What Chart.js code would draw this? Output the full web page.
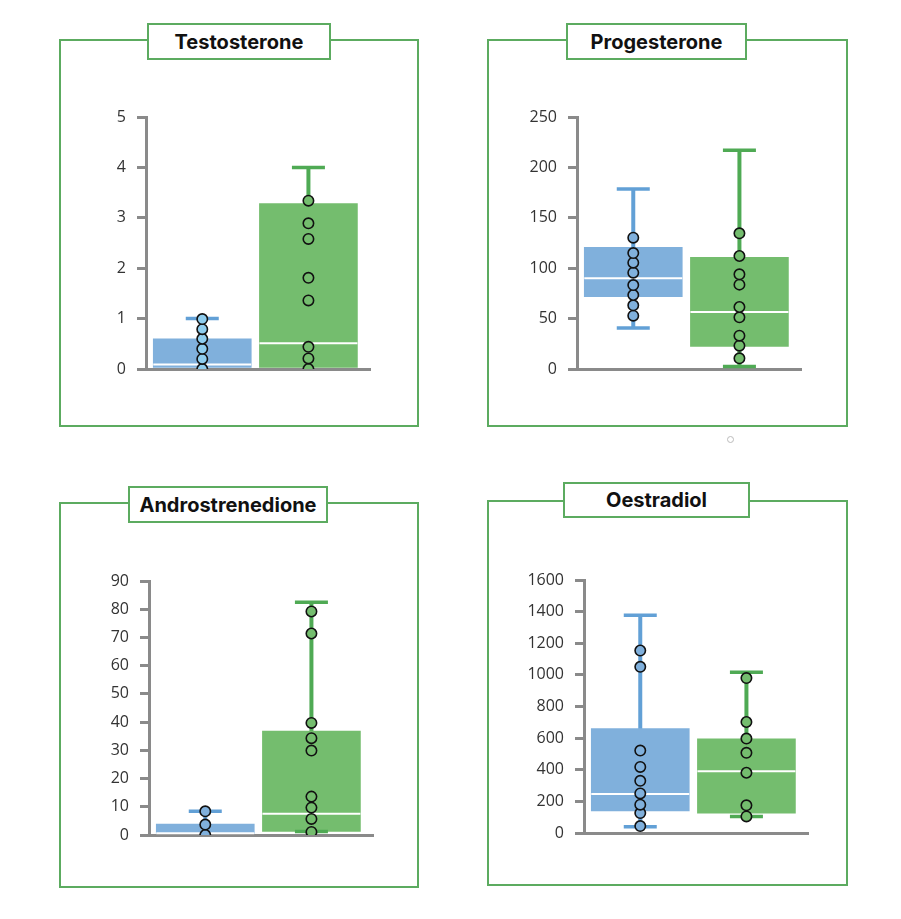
<!DOCTYPE html>
<html>
<head>
<meta charset="utf-8">
<script src="https://cdn.jsdelivr.net/npm/chart.js@4.4.1/dist/chart.umd.min.js"></script>
<style>
  body { margin: 0; background: #fff; }
  #page { position: relative; width: 901px; height: 919px; overflow: hidden; background: #fff; }
  .panel { position: absolute; border: 2px solid #5cab60; box-sizing: border-box; }
  .title { position: absolute; background: #fff; border: 2px solid #5cab60; box-sizing: border-box;
           font: 700 20px Inter, 'Open Sans', sans-serif; color: #111; text-align: center;
           display: flex; align-items: center; justify-content: center; }
  canvas { position: absolute; }
  .dot { position: absolute; width: 5px; height: 5px; border: 1px solid #bbb; border-radius: 50%; }
</style>
</head>
<body>
<div id="page">
  <div class="panel" style="left:59px;top:39px;width:360px;height:388px"></div>
  <div class="panel" style="left:487px;top:39px;width:361px;height:388px"></div>
  <div class="panel" style="left:59px;top:502px;width:360px;height:386px"></div>
  <div class="panel" style="left:487px;top:500px;width:361px;height:386px"></div>
  <div class="title" id="t0" style="left:147px;top:23px;width:184px;height:37px"></div>
  <div class="title" id="t1" style="left:566px;top:23px;width:181px;height:37px"></div>
  <div class="title" id="t2" style="left:128px;top:486px;width:200px;height:37px"></div>
  <div class="title" id="t3" style="left:563px;top:482px;width:187px;height:36px"></div>
  <canvas id="c0" width="290" height="272" style="left:86px;top:105px"></canvas>
  <canvas id="c1" width="290" height="272" style="left:517px;top:105px"></canvas>
  <canvas id="c2" width="290" height="274" style="left:89px;top:569px"></canvas>
  <canvas id="c3" width="290" height="273" style="left:524px;top:568px"></canvas>
  <div class="dot" style="left:727px;top:436px"></div>
</div>
<script>
// two groups per panel: 1 = blue, 2 = green
const groups = [1, 2];
const titles = ['Testosterone', 'Progesterone', 'Androstrenedione', 'Oestradiol'];

// Testosterone
const testoBox = [[0, 0.09, 0.6], [0, 0.51, 3.28]];      // q1, median, q3
const testoWhisker = [[0, 1.0], [0, 4.0]];               // min, max
const testoPoints = [
  [0, 0.2, 0.4, 0.6, 0.79, 0.99],
  [0, 0.21, 0.44, 1.36, 1.81, 2.58, 2.89, 3.34]
];
const testoTicks = [0, 5, 1];

// Progesterone
const progBox = [[71.8, 90, 120.7], [22.5, 56.5, 110.8]];
const progWhisker = [[40.7, 178.6], [2.6, 217]];
const progPoints = [
  [52.9, 63.2, 73.4, 83.3, 95.6, 105.5, 115, 130.3],
  [10.6, 23.1, 33.1, 51.3, 61.5, 83.7, 93.9, 112.1, 134.6]
];
const progTicks = [0, 250, 50];

// Androstrenedione
const androBox = [[0, 0.6, 3.9], [1.3, 7.5, 36.8]];
const androWhisker = [[0, 8.4], [1.2, 82.5]];
const androPoints = [
  [0, 3.7, 8.4],
  [1.1, 5.7, 9.7, 13.6, 29.9, 34.3, 39.7, 71.4, 79.2]
];
const androTicks = [0, 90, 10];

// Oestradiol
const oestBox = [[139, 246, 660], [126, 391, 595]];
const oestWhisker = [[40, 1377], [105, 1016]];
const oestPoints = [
  [44, 126, 179, 250, 330, 418, 521, 1051, 1154],
  [105, 175, 381, 507, 597, 702, 980]
];
const oestTicks = [0, 1600, 200];

const boxColors = ['#80b0dc', '#74bd6e'];
const whiskerColors = ['#62a0d6', '#4faa54'];
const axisGrey = '#8a8a8a';

function makePanel(id, box, whisker, points, ticks, pointColors) {
  const datasets = [];
  groups.forEach((g, i) => {
    datasets.push({
      type: 'line', order: 5,
      data: [{ x: g, y: whisker[i][0] }, { x: g, y: whisker[i][1] }],
      borderColor: whiskerColors[i], borderWidth: 4, pointRadius: 0, fill: false
    });
    datasets.push({
      type: 'scatter', order: 1,
      data: whisker[i].filter(v => v > 0).map(v => ({ x: g, y: v })),
      pointStyle: 'line', pointRadius: 16.5, pointBorderWidth: 3.5,
      pointBorderColor: whiskerColors[i], pointHoverRadius: 16.5
    });
    datasets.push({
      type: 'scatter', order: 0,
      data: points[i].map(v => ({ x: g, y: v })),
      pointStyle: 'circle', pointRadius: 5.2, pointBorderWidth: 1.6,
      pointBorderColor: '#111', pointBackgroundColor: pointColors[i]
    });
  });
  datasets.push({
    type: 'bar', order: 3,
    data: groups.map((g, i) => ({ x: g, y: [box[i][0], box[i][2]] })),
    backgroundColor: boxColors, borderWidth: 0, barThickness: 98
  });
  datasets.push({
    type: 'scatter', order: 2,
    data: groups.map((g, i) => ({ x: g, y: box[i][1] })),
    pointStyle: 'line', pointRadius: 49, pointBorderWidth: 2,
    pointBorderColor: '#fff'
  });

  new Chart(document.getElementById(id), {
    type: 'bar',
    data: { datasets },
    options: {
      responsive: false,
      animation: false,
      layout: { autoPadding: false, padding: { top: 12, right: 6, bottom: 4, left: 0 } },
      plugins: { legend: { display: false }, tooltip: { enabled: false } },
      scales: {
        x: {
          type: 'linear', min: 0.47, max: 2.58, offset: false,
          ticks: { display: false },
          grid: { display: false },
          border: { color: axisGrey, width: 3 },
          afterFit: s => { s.height = 4; s.paddingLeft = 0; s.paddingRight = 0; }
        },
        y: {
          min: ticks[0], max: ticks[1],
          ticks: { stepSize: ticks[2], padding: 11, color: '#333', autoSkip: false,
                   callback: v => String(v),
                   font: { family: "'Open Sans', sans-serif", size: 16 } },
          grid: { drawOnChartArea: false, drawTicks: true, tickLength: 9,
                  color: axisGrey, lineWidth: 3 },
          border: { color: axisGrey, width: 3 },
          afterFit: s => { s.width = 60; s.paddingTop = 0; s.paddingBottom = 0; }
        }
      }
    }
  });
}

titles.forEach((t, i) => { document.getElementById('t' + i).textContent = t; });

makePanel('c0', testoBox, testoWhisker, testoPoints, testoTicks, ['#8fcdee', '#74bd6e']);
makePanel('c1', progBox, progWhisker, progPoints, progTicks, ['#80b0dc', '#74bd6e']);
makePanel('c2', androBox, androWhisker, androPoints, androTicks, ['#80b0dc', '#74bd6e']);
makePanel('c3', oestBox, oestWhisker, oestPoints, oestTicks, ['#80b0dc', '#74bd6e']);
</script>
</body>
</html>
